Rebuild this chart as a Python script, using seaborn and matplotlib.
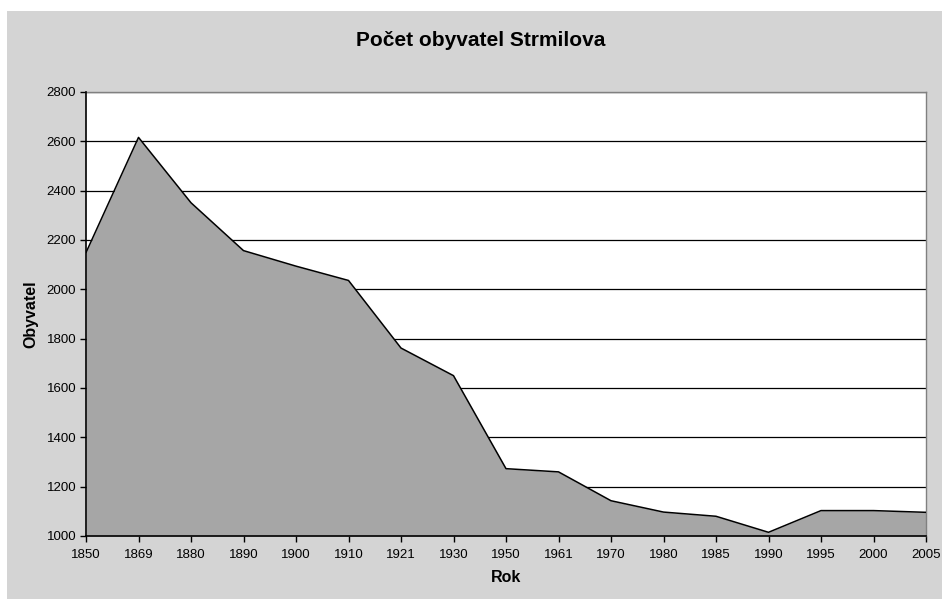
import numpy as np
import pandas as pd
import matplotlib
matplotlib.use("Agg")
import matplotlib.pyplot as plt
from matplotlib.patches import Rectangle
import seaborn as sns

# data
roky = ["1850", "1869", "1880", "1890", "1900", "1910", "1921", "1930", "1950",
        "1961", "1970", "1980", "1985", "1990", "1995", "2000", "2005"]
obyvatel = [2149, 2616, 2351, 2157, 2094, 2036, 1762, 1650, 1273,
            1260, 1143, 1097, 1080, 1015, 1103, 1103, 1096]
y_ticks = [1000, 1200, 1400, 1600, 1800, 2000, 2200, 2400, 2600, 2800]

df = pd.DataFrame({"rok": roky, "obyvatel": obyvatel})
df["pos"] = np.arange(len(df))

sns.set_style("white")
plt.rcParams["font.family"] = ["Liberation Sans", "DejaVu Sans"]
plt.rcParams["text.color"] = "black"
plt.rcParams["axes.labelcolor"] = "black"
plt.rcParams["xtick.color"] = "black"
plt.rcParams["ytick.color"] = "black"

fig = plt.figure(figsize=(9.42, 5.99), dpi=100)
fig.patch.set_facecolor("white")
# gray chart area with thin white margin
fig.patches.append(Rectangle((7 / 942, 0), 1 - 7 / 942, 1 - 11 / 599,
                             transform=fig.transFigure, facecolor="#d4d4d4",
                             edgecolor="none", zorder=-10))

ax = fig.add_axes([86 / 942, 1 - 536 / 599, 840 / 942, 444 / 599])
ax.set_facecolor("white")

ax.fill_between(df["pos"], 1000, df["obyvatel"], color="#a6a6a6", zorder=2, linewidth=0)
sns.lineplot(data=df, x="pos", y="obyvatel", ax=ax, color="black", linewidth=1.1, zorder=3)

ax.set_xlim(0, len(df) - 1)
ax.set_ylim(1000, 2800)
ax.set_yticks(y_ticks)
ax.set_yticklabels([str(v) for v in y_ticks], fontsize=9.5)
ax.set_xticks(df["pos"])
ax.set_xticklabels(df["rok"], fontsize=9.5)
ax.yaxis.grid(True, color="black", linewidth=0.9, zorder=1)
ax.set_axisbelow(True)
ax.tick_params(axis="both", direction="out", length=4, width=1, color="black",
               bottom=True, left=True)
ax.tick_params(axis="x", pad=5)
ax.tick_params(axis="y", pad=3)

for s in ["left", "bottom"]:
    ax.spines[s].set_color("black")
    ax.spines[s].set_linewidth(1.2)
for s in ["top", "right"]:
    ax.spines[s].set_color("#808080")
    ax.spines[s].set_linewidth(1.0)
ax.spines["left"].set_zorder(4)
ax.spines["bottom"].set_zorder(4)

ax.set_xlabel("Rok", fontsize=11.5, fontweight="bold", labelpad=7)
ax.set_ylabel("Obyvatel", fontsize=11.5, fontweight="bold", labelpad=6)
fig.text(0.5 + 10 / 942, 1 - 40 / 599, "Počet obyvatel Strmilova", ha="center", va="center",
         fontsize=15, fontweight="bold")

fig.savefig("out.png", dpi=100)
